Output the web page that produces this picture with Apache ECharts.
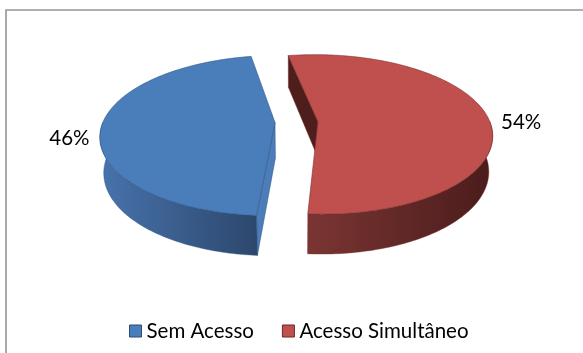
<!DOCTYPE html>
<html>
<head>
<meta charset="utf-8">
<script src="https://cdn.jsdelivr.net/npm/echarts@6/dist/echarts.min.js"></script>
<style>
  html, body { margin: 0; padding: 0; background: #ffffff; }
  #chart { width: 583px; height: 353px; }
</style>
</head>
<body>
<div id="chart"></div>
<script>
// Chart data
const categories = ['Sem Acesso', 'Acesso Simultâneo'];
const shares = [46, 54];

// Slice appearance
const topColors = ['#4a7ebb', '#c0504d'];
const edgeColors = ['#2f5684', '#7e2f2d'];
const sideColors = [['#4873ad', '#2c476c'], ['#7a3533', '#4a1c1b']];
const cutColors = ['#4c7cb9', '#4e1e1c'];
const legendBorders = ['#2a4a75', '#6e2523'];

// 3D view of the pie (unit radius disk, perspective camera)
const VIEW = {
  cx: 296.5, cy: 122,
  focal: 943.9, dist: 5.488,
  tilt: 26.9 * Math.PI / 180,
  thick: 0.235,
  explode: 0.125,
  firstAngle: 184,   // degrees clockwise from the far point
  labelR: 1.33,
  labelDrop: -0.056
};
const FONT = 'Lato, "Open Sans", sans-serif';
const FONT_SIZE = 20.5;

const total = shares.reduce((a, b) => a + b, 0);
const sinT = Math.sin(VIEW.tilt), cosT = Math.cos(VIEW.tilt);

function project(X, Y, Z) {
  const yc = Y * cosT - Z * sinT;
  const zc = VIEW.dist - (Y * sinT + Z * cosT);
  return [VIEW.cx + VIEW.focal * X / zc, VIEW.cy - VIEW.focal * yc / zc];
}
function rad(deg) { return deg * Math.PI / 180; }
function rim(deg, ex, ez, Y) {
  const a = rad(deg);
  return project(ex + Math.sin(a), Y, ez - Math.cos(a));
}
function arcPoints(a0, a1, ex, ez, Y) {
  const pts = [];
  const n = Math.max(2, Math.ceil(Math.abs(a1 - a0)));
  for (let k = 0; k <= n; k++) pts.push(rim(a0 + (a1 - a0) * k / n, ex, ez, Y));
  return pts;
}

function sliceStart(idx) {
  let start = VIEW.firstAngle;
  for (let k = 0; k < idx; k++) start += shares[k] / total * 360;
  return start;
}

function makeRenderItem(idx) {
  return function (params, api) {
    const value = api.value(0);
    const s = sliceStart(idx);
    const e = s + value / total * 360;
    const mid = (s + e) / 2;
    const ex = VIEW.explode * Math.sin(rad(mid));
    const ez = -VIEW.explode * Math.cos(rad(mid));
    const h = VIEW.thick;
    const children = [];

    const apexTop = project(ex, 0, ez);
    const apexBot = project(ex, -h, ez);
    const camZ = VIEW.dist * cosT;

    // radial cut walls facing the camera
    [[s, s - 90], [e, e + 90]].forEach(([edge, nAng]) => {
      const nx = Math.sin(rad(nAng)), nz = -Math.cos(rad(nAng));
      const dot = nx * (0 - ex) + nz * (camZ - ez);
      if (dot > 0) {
        children.push({
          type: 'polygon',
          shape: { points: [apexTop, rim(edge, ex, ez, 0), rim(edge, ex, ez, -h), apexBot] },
          style: { fill: cutColors[idx], stroke: edgeColors[idx], lineWidth: 0.5 }
        });
      }
    });

    // outer wall on the near half of the rim
    for (let k = -1; k <= 2; k++) {
      const lo = Math.max(s, 90 + 360 * k), hi = Math.min(e, 270 + 360 * k);
      if (hi > lo) {
        const topArc = arcPoints(lo, hi, ex, ez, 0);
        const botArc = arcPoints(hi, lo, ex, ez, -h);
        const pts = topArc.concat(botArc);
        const xs = pts.map(p => p[0]);
        const x0 = Math.min(...xs), x1 = Math.max(...xs);
        children.push({
          type: 'polygon',
          shape: { points: pts },
          style: {
            fill: {
              type: 'linear', global: true, x: x0, y: 0, x2: x1, y2: 0,
              colorStops: [
                { offset: 0, color: sideColors[idx][0] },
                { offset: 1, color: sideColors[idx][1] }
              ]
            },
            stroke: edgeColors[idx], lineWidth: 0.4
          }
        });
      }
    }

    // top face
    children.push({
      type: 'polygon',
      shape: { points: [apexTop].concat(arcPoints(s, e, ex, ez, 0)) },
      style: { fill: topColors[idx], stroke: edgeColors[idx], lineWidth: 0.6 }
    });

    // percentage label outside the slice
    const R = VIEW.labelR;
    const lp = project(R * Math.sin(rad(mid)), VIEW.labelDrop, -R * Math.cos(rad(mid)));
    children.push({
      type: 'text',
      style: {
        text: Math.round(value / total * 100) + '%',
        x: lp[0] + (idx === 0 ? 3 : 0), y: lp[1] + (idx === 0 ? 2 : -2),
        align: 'center', verticalAlign: 'middle',
        fill: '#000000', font: FONT_SIZE + 'px ' + FONT
      }
    });

    return { type: 'group', children: children };
  };
}

const chart = echarts.init(document.getElementById('chart'), null, { renderer: 'canvas' });

chart.setOption({
  backgroundColor: '#ffffff',
  animation: false,
  graphic: [{
    type: 'rect',
    shape: { x: 6, y: 10, width: 640, height: 400 },
    style: { fill: 'none', stroke: '#969696', lineWidth: 1.6 },
    silent: true
  }],
  legend: {
    top: 315,
    left: 124,
    itemWidth: 12,
    itemHeight: 12,
    itemGap: 28,
    textStyle: { fontFamily: FONT, fontSize: FONT_SIZE, color: '#000000', lineHeight: 22 },
    data: categories.map((name, i) => ({
      name: name,
      icon: 'rect',
      itemStyle: { color: topColors[i], borderColor: legendBorders[i], borderWidth: 1 }
    }))
  },
  series: categories.map((name, i) => ({
    type: 'custom',
    name: name,
    coordinateSystem: 'none',
    itemStyle: { color: topColors[i] },
    renderItem: makeRenderItem(i),
    data: [[shares[i]]]
  }))
});
</script>
</body>
</html>
